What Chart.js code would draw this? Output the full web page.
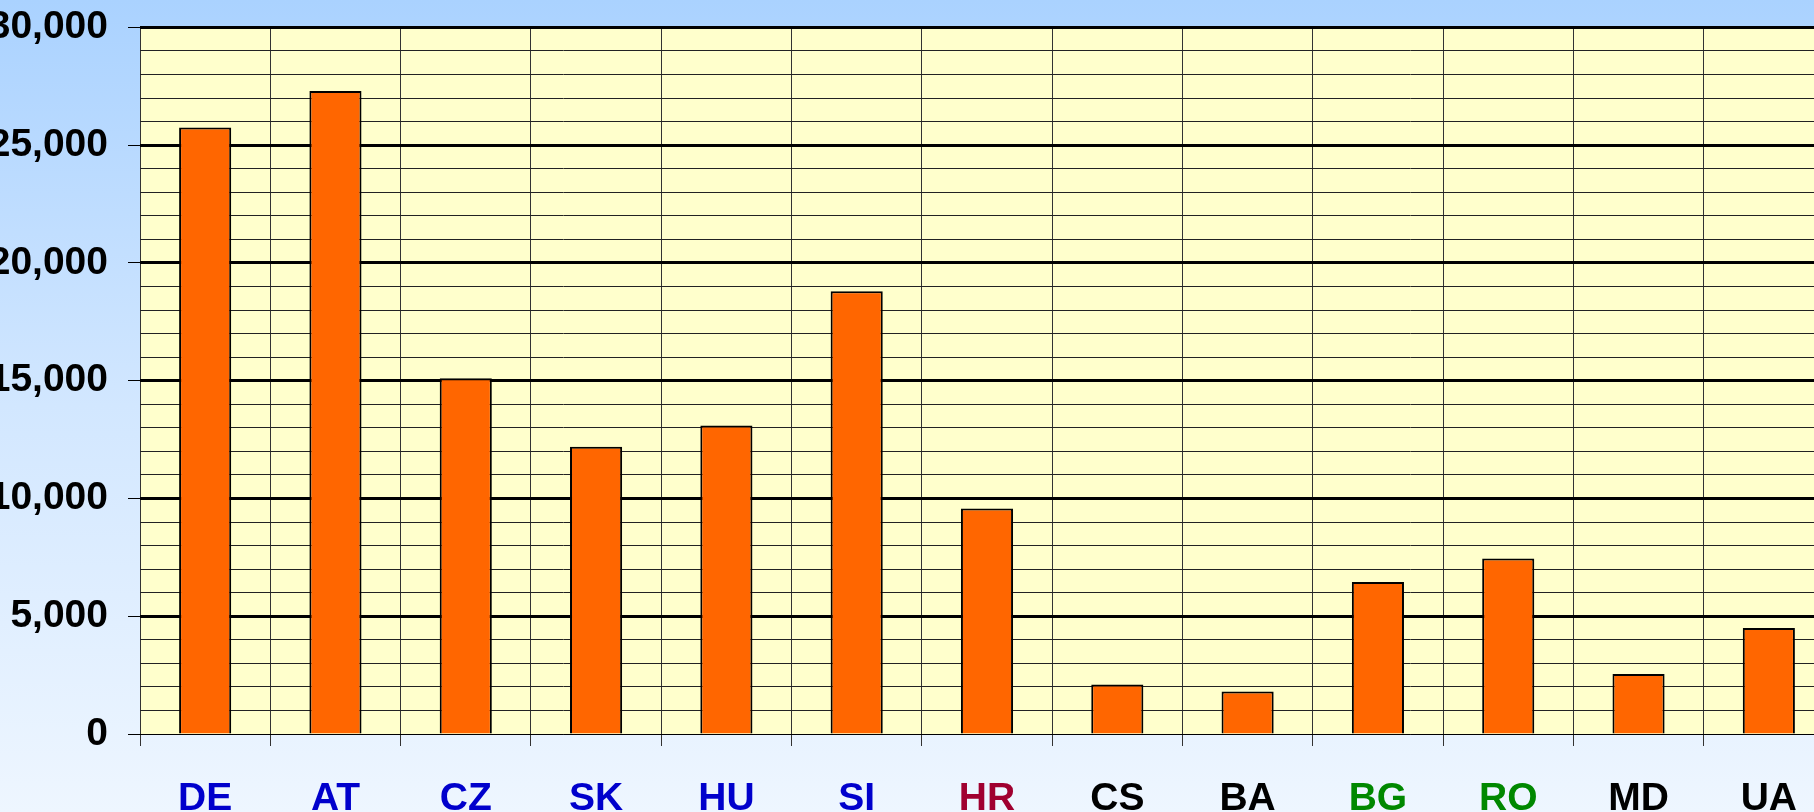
<!DOCTYPE html>
<html>
<head>
<meta charset="utf-8">
<script src="https://cdn.jsdelivr.net/npm/chart.js@4/dist/chart.umd.min.js"></script>
<style>
    html, body {
        margin: 0;
        padding: 0;
        width: 1814px;
        height: 812px;
        overflow: hidden;
        background: linear-gradient(to bottom, #aad2ff 0%, #d2e7ff 50%, #eef6ff 100%);
    }
    #chartBox { position: absolute; left: 0; top: -16px; width: 1834px; height: 828px; }
</style>
</head>
<body>
<div id="chartBox"><canvas id="countryChart" width="1834" height="828"></canvas></div>
<script>
    // Country codes and values
    const countries = ['DE', 'AT', 'CZ', 'SK', 'HU', 'SI', 'HR', 'CS', 'BA', 'BG', 'RO', 'MD', 'UA'];
    const values = [25750, 27300, 15100, 12200, 13100, 18800, 9570, 2100, 1800, 6450, 7450, 2550, 4500];
    const labelColors = ['#0000cc', '#0000cc', '#0000cc', '#0000cc', '#0000cc', '#0000cc',
                         '#a00030', '#000000', '#000000', '#008800', '#008800', '#000000', '#000000'];
    const yMax = 30000;
    const majorStep = 5000;
    const minorStep = 1000;

    // yellow plot background
    const plotBackground = {
        id: 'plotBackground',
        beforeDraw(chart) {
            const { ctx, chartArea } = chart;
            ctx.save();
            ctx.fillStyle = '#ffffcc';
            ctx.fillRect(chartArea.left, chartArea.top, chartArea.width, chartArea.height);
            ctx.restore();
        }
    };

    const font = { family: '"Liberation Sans", Arial, sans-serif', size: 39, weight: 'bold' };

    new Chart(document.getElementById('countryChart'), {
        type: 'bar',
        data: {
            labels: countries,
            datasets: [{
                data: values,
                backgroundColor: '#ff6600',
                borderColor: '#000000',
                borderWidth: 2,
                categoryPercentage: 1,
                barPercentage: 0.4
            }]
        },
        options: {
            responsive: false,
            animation: false,
            layout: { padding: { top: 8, left: 0, right: 0, bottom: 0 } },
            plugins: { legend: { display: false }, tooltip: { enabled: false } },
            scales: {
                x: {
                    grid: { color: '#333333', lineWidth: 1, tickLength: 12, offset: true },
                    border: { display: false },
                    ticks: { color: labelColors, font: font, padding: 30, maxRotation: 0 },
                    afterFit(scale) { scale.height = 78; }
                },
                y2: {
                    position: 'left',
                    min: 0,
                    max: yMax,
                    z: -1,
                    ticks: { stepSize: minorStep, display: false },
                    grid: { color: '#222222', lineWidth: 1, drawTicks: false },
                    border: { display: false },
                    afterFit(scale) { scale.width = 0; }
                },
                y: {
                    position: 'left',
                    min: 0,
                    max: yMax,
                    ticks: {
                        stepSize: majorStep,
                        color: '#000000',
                        font: font,
                        padding: 20,
                        callback: v => v.toLocaleString('en-US')
                    },
                    grid: {
                        color: '#000000',
                        lineWidth: ctx => (ctx.tick && ctx.tick.value === 0 ? 1 : 3),
                        tickLength: 12,
                        tickWidth: 1
                    },
                    border: { display: false },
                    afterFit(scale) { scale.width = 140; }
                }
            }
        },
        plugins: [plotBackground]
    });
</script>
</body>
</html>
